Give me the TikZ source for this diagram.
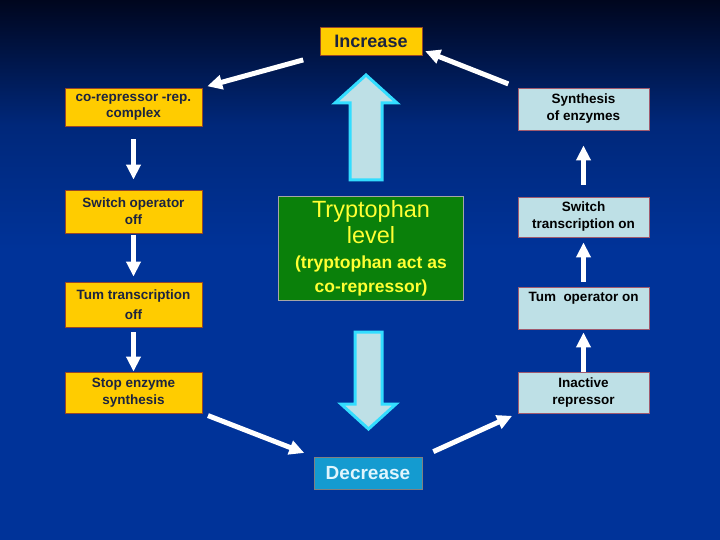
\documentclass[tikz,border=0pt]{standalone}
\usepackage{fontspec}
\setmainfont{Liberation Sans}
\usetikzlibrary{arrows.meta,positioning}
\definecolor{bgblue}{RGB}{0,51,153}
\definecolor{topnavy}{RGB}{0,6,30}
\definecolor{boxyellow}{RGB}{255,204,0}
\definecolor{boxblue}{RGB}{190,224,230}
\definecolor{boxgreen}{RGB}{10,128,10}
\definecolor{textyellow}{RGB}{255,255,51}
\definecolor{decblue}{RGB}{20,155,208}
\definecolor{arrowcyan}{RGB}{51,221,255}
\definecolor{darknavy}{RGB}{28,36,64}
\definecolor{edgebrown}{RGB}{150,70,40}
\definecolor{edgepink}{RGB}{160,90,110}
\newcommand{\bigtxt}{\fontsize{23.5}{26}\selectfont}
\newcommand{\smalltxt}{\fontsize{17.5}{26}\selectfont\bfseries}

\begin{document}
\begin{tikzpicture}[x=1pt,y=-1pt,
    lbox/.style={draw=edgebrown,fill=boxyellow,line width=0.8pt,minimum width=137pt,align=center,
      text=darknavy,font=\fontsize{13.5}{17}\selectfont\bfseries,inner sep=0pt},
    rbox/.style={draw=edgepink,fill=boxblue,line width=0.8pt,minimum width=131pt,align=center,
      text=black,font=\fontsize{13.5}{17}\selectfont\bfseries,inner sep=0pt},
    warrow/.style={draw=white,line width=5pt,-{Triangle[width=14pt,length=15pt]}},
    bigarrow/.style={fill=boxblue,draw=arrowcyan,line width=3pt,line join=miter}]
    \useasboundingbox (0,0) rectangle (720,540);
    \fill[bgblue] (0,0) rectangle (720,540);
    \shade[top color=topnavy,bottom color=bgblue,middle color=bgblue!75!topnavy] (0,0) rectangle (720,250);

    \node[draw=edgebrown,fill=boxyellow,line width=0.8pt,minimum width=102pt,minimum height=28pt,
      text=darknavy,font=\fontsize{18}{20}\selectfont\bfseries,inner sep=0pt] (inc) at (371,41) {Increase};
    \node[draw=gray,fill=decblue,line width=0.8pt,minimum width=108pt,minimum height=32pt,
      text=white!88!cyan,font=\fontsize{19}{21}\selectfont\bfseries,inner sep=0pt] (dec) at (368,473) {Decrease};

    \node[lbox,minimum height=38pt,font=\fontsize{13.5}{16}\selectfont\bfseries] (left1) at (133.5,107) {co-repressor -rep.\\complex};
    \node[lbox,minimum height=43pt] (left2) at (133.5,211.5) {Switch operator\\off};
    \node[lbox,minimum height=45pt,font=\fontsize{13.5}{20}\selectfont\bfseries] (left3) at (133.5,304.5) {Tum transcription\\off};
    \node[lbox,minimum height=41pt] (left4) at (133.5,392.5) {Stop enzyme\\synthesis};

    \node[rbox,minimum height=42pt] (right1) at (583.5,109) {Synthesis\\of enzymes};
    \node[rbox,minimum height=40pt] (right2) at (583.5,217) {Switch\\transcription on};
    \node[rbox,minimum height=42pt] (right3) at (583.5,308) {Tum\ \ operator on\\\strut};
    \node[rbox,minimum height=41pt] (right4) at (583.5,392.5) {Inactive\\repressor};

    \node[draw=gray!70,fill=boxgreen,line width=0.8pt,minimum width=185pt,minimum height=104pt,
      align=center,text=textyellow,inner sep=0pt,font=\bigtxt] (level) at (371,248)
      {\bigtxt Tryptophan\\\bigtxt level\\[-1pt]\smalltxt (tryptophan act as\\[-2pt]\smalltxt co-repressor)};

    \draw[bigarrow] (350,180) -- (350,103) -- (335,103) -- (366,75) -- (397,103) -- (382,103) -- (382,180) -- cycle;
    \draw[bigarrow] (355,332) -- (355,404) -- (341,404) -- (368.5,429) -- (396,404) -- (382,404) -- (382,332) -- cycle;

    \draw[warrow,shorten <=17pt,shorten >=5pt] (inc.south west) -- (left1.north east);
    \draw[warrow,shorten <=10pt,shorten >=3pt] (right1.north west) -- (inc.-10);
    \draw[warrow,shorten <=13pt,shorten >=10pt] (left1.south) -- (left2.north);
    \draw[warrow,shorten <=2pt,shorten >=5pt] (left2.south) -- (left3.north);
    \draw[warrow,shorten <=5pt,shorten >=0pt] (left3.south) -- (left4.north);
    \draw[warrow,shorten <=6pt,shorten >=10pt] (left4.south east) -- (dec.north west);
    \draw[warrow,shorten <=12pt,shorten >=6pt] (dec.north east) -- (right4.south west);
    \draw[warrow,shorten <=0pt,shorten >=3pt] (right4.north) -- (right3.south);
    \draw[warrow,shorten <=5pt,shorten >=5pt] (right3.north) -- (right2.south);
    \draw[warrow,shorten <=12pt,shorten >=15pt] (right2.north) -- (right1.south);
\end{tikzpicture}
\end{document}
